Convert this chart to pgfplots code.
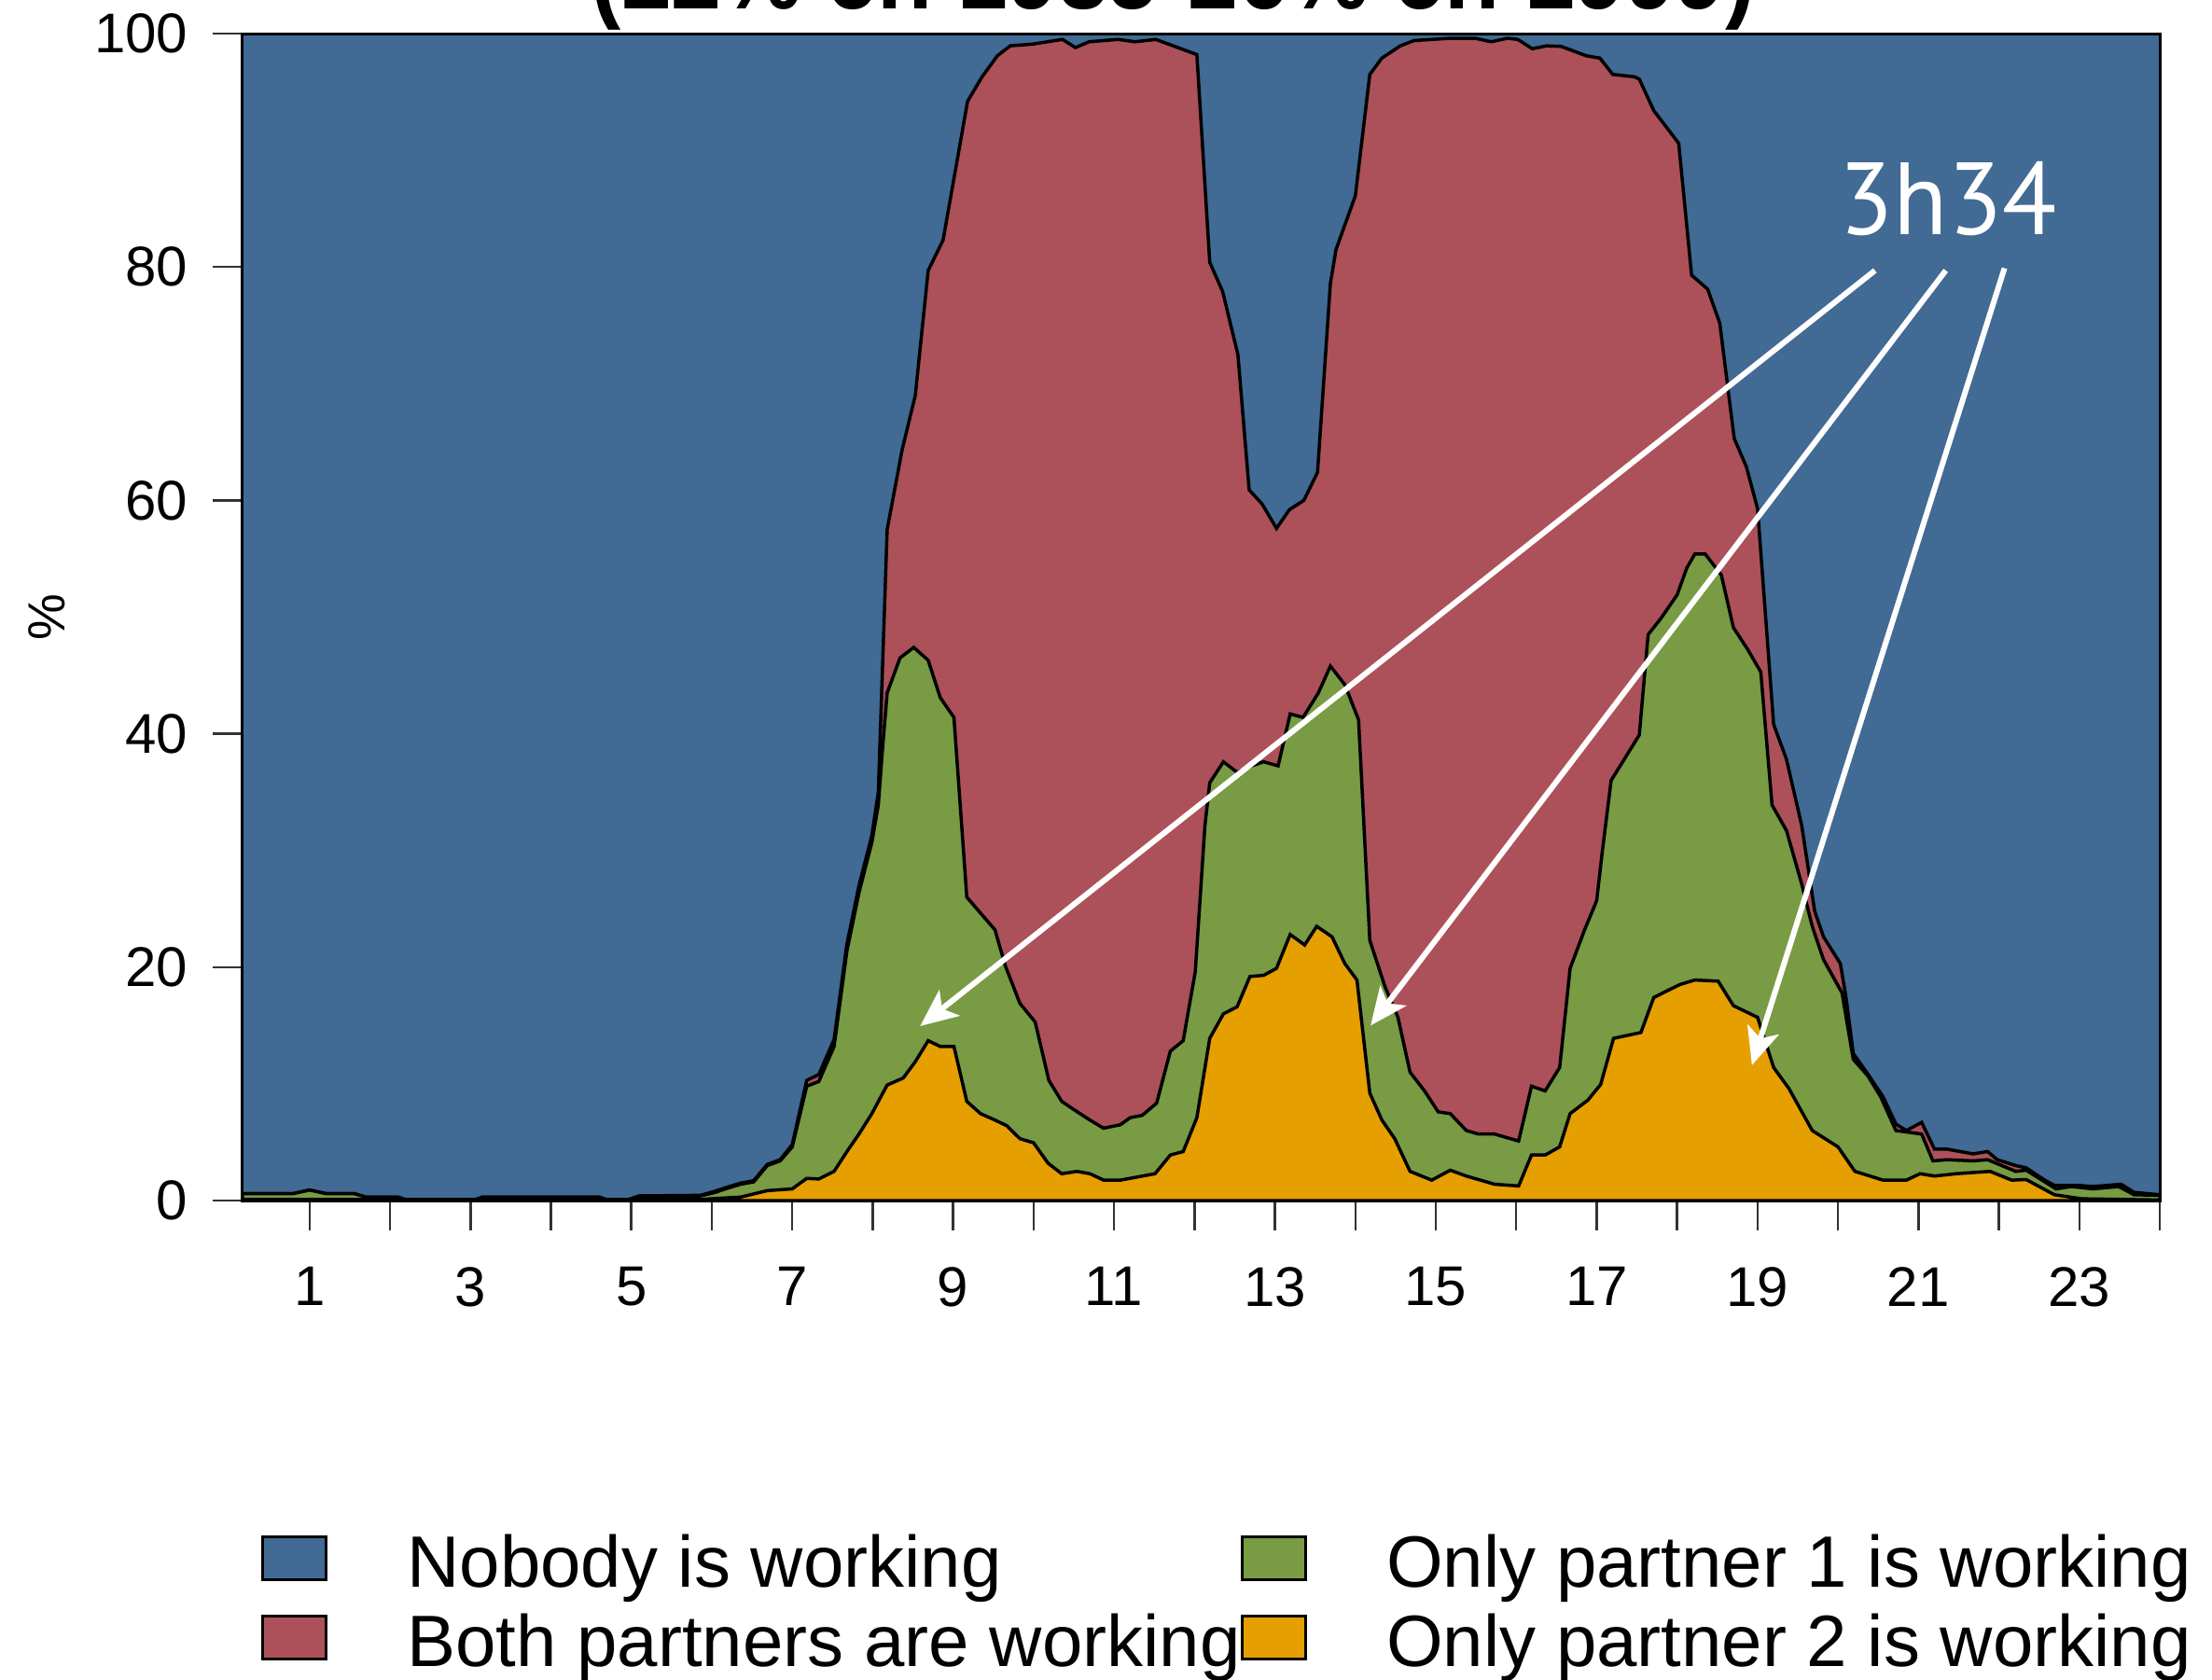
\documentclass[border=0pt]{standalone}
\usepackage{fontspec}
\setmainfont{Liberation Sans}
\newfontfamily\annfont{PT Sans}
\usepackage{pgfplots}
\pgfplotsset{compat=1.18}
\usetikzlibrary{arrows.meta}

\definecolor{nobody}{HTML}{416A94}
\definecolor{both}{HTML}{AC5159}
\definecolor{only1}{HTML}{789B43}
\definecolor{only2}{HTML}{E69F00}

\begin{document}
\begin{tikzpicture}
\path[use as bounding box] (-52pt,-102.6pt) rectangle (422.2pt,257.4pt);
\clip (-52pt,-102.6pt) rectangle (422.2pt,257.4pt);

\begin{axis}[
    at={(0pt,0pt)}, anchor=south west,
    scale only axis, width=411pt, height=250.2pt,
    xmin=0.1667, xmax=24, ymin=0, ymax=100,
    xtick={1,...,24},
    xticklabels={1,,3,,5,,7,,9,,11,,13,,15,,17,,19,,21,,23,},
    ytick={0,20,...,100},
    tick align=outside, tick pos=left,
    major tick length=6.4pt,
    tick style={black!80, line width=0.5pt},
    axis line style={black, line width=0.6pt},
    ticklabel style={font=\fontsize{12}{14}\selectfont},
    xticklabel style={yshift=-4.3pt},
    yticklabel style={xshift=-1.8pt},
    /pgf/number format/assume math mode=true,
    ylabel={\%},
    every axis y label/.style={at={(axis description cs:-0.1022,0.5)}, rotate=90, anchor=center, font=\fontsize{11.2}{13}\selectfont},
    axis on top,
    legend columns=2,
    legend cell align=left,
    legend style={at={(0.00973,-0.287)}, anchor=north west, draw=none, fill=none,
        inner sep=0pt, outer sep=0pt, font=\fontsize{15.6}{18}\selectfont,
        column sep=0pt, row sep=2.4pt,
        nodes={inner sep=0pt, text height=11pt, text depth=3.4pt}},
    legend image code/.code={\draw[#1,draw=black,line width=0.6pt] (0pt,-2.2pt) rectangle (13.6pt,7pt); \path (30.8pt,0pt);},
]

% nobody is working: fills everything up to 100
\addplot[fill=nobody, draw=none, forget plot] coordinates {(0.1667,100) (24,100)} \closedcycle;

% cumulative: both + only 1 + only 2
\addplot[fill=both, draw=black, line width=0.7pt, forget plot] coordinates {
(0.1667,0.6) (0.8,0.6) (1.0,0.9) (1.2,0.6) (1.55,0.6) (1.7,0.3) (2.1,0.3) (2.2,0.05)
(3.05,0.05) (3.15,0.3) (4.6,0.3) (4.7,0.05) (4.95,0.05) (5.1,0.4) (5.86,0.45) (6.04,0.8)
(6.17,1.1) (6.36,1.5) (6.52,1.7) (6.69,3.1) (6.85,3.5) (7.0,4.8) (7.18,10.3) (7.33,10.8)
(7.52,13.8) (7.68,22.0) (7.83,27.0) (7.99,31.3) (8.07,35.0) (8.18,57.5) (8.365,64.3)
(8.53,69.0) (8.69,79.7) (8.875,82.3) (9.18,94.2) (9.36,96.3) (9.55,98.1) (9.71,98.95)
(9.99,99.1) (10.36,99.5) (10.52,98.8) (10.69,99.3) (11.05,99.5) (11.26,99.3) (11.52,99.5)
(12.03,98.2) (12.19,80.4) (12.35,77.9) (12.54,72.5) (12.68,60.9) (12.84,59.7) (13.02,57.6)
(13.18,59.2) (13.36,60.0) (13.53,62.4) (13.69,78.6) (13.76,81.5) (14.0,86.1) (14.18,96.5)
(14.33,97.9) (14.56,98.95) (14.73,99.4) (15.18,99.6) (15.49,99.6) (15.69,99.3) (15.89,99.6)
(16.02,99.5) (16.2,98.7) (16.38,98.95) (16.56,98.9) (16.87,98.1) (17.04,97.9) (17.2,96.5)
(17.47,96.3) (17.53,96.1) (17.71,93.4) (18.02,90.6) (18.18,79.3) (18.38,78.1) (18.53,75.2)
(18.71,65.3) (18.86,62.9) (19.0,59.3) (19.2,40.8) (19.36,37.8) (19.55,32.1) (19.71,24.8)
(19.82,22.6) (20.03,20.3) (20.1,17.4) (20.19,12.6) (20.37,10.85) (20.56,8.9) (20.72,6.55)
(20.85,6.0) (21.04,6.7) (21.2,4.4) (21.36,4.4) (21.68,4.0) (21.86,4.2) (21.98,3.5)
(22.21,3.0) (22.34,2.8) (22.57,1.75) (22.69,1.3) (22.99,1.3) (23.17,1.2) (23.52,1.4)
(23.68,0.7) (24.0,0.5)
} \closedcycle;

% cumulative: only 1 + only 2
\addplot[fill=only1, draw=black, line width=0.7pt, forget plot] coordinates {
(0.1667,0.6) (0.8,0.6) (1.0,0.9) (1.2,0.6) (1.55,0.6) (1.7,0.3) (2.1,0.3) (2.2,0.05)
(3.05,0.05) (3.15,0.3) (4.6,0.3) (4.7,0.05) (4.95,0.05) (5.1,0.4) (5.86,0.4) (6.04,0.7)
(6.17,1.0) (6.36,1.4) (6.52,1.6) (6.69,3.0) (6.85,3.4) (7.0,4.6) (7.18,9.8) (7.33,10.2)
(7.52,13.2) (7.68,21.4) (7.83,26.4) (7.99,30.7) (8.07,33.9) (8.12,38.5) (8.18,43.5)
(8.34,46.5) (8.51,47.4) (8.69,46.3) (8.84,43.1) (9.01,41.4) (9.17,26.0) (9.32,24.8)
(9.52,23.2) (9.65,20.1) (9.83,16.9) (10.02,15.3) (10.19,10.3) (10.35,8.5) (10.5,7.8)
(10.7,6.9) (10.87,6.2) (11.08,6.5) (11.2,7.1) (11.35,7.3) (11.53,8.35) (11.7,12.8)
(11.86,13.7) (12.01,19.6) (12.13,32.1) (12.19,35.8) (12.36,37.6) (12.53,36.7) (12.71,37.25)
(12.86,37.6) (13.04,37.25) (13.19,41.7) (13.35,41.4) (13.54,43.5) (13.69,45.8) (13.87,44.2)
(14.04,41.2) (14.18,22.3) (14.37,18.3) (14.53,15.7) (14.68,11.0) (14.86,9.4) (15.03,7.6)
(15.18,7.45) (15.38,6.0) (15.53,5.7) (15.73,5.7) (16.03,5.1) (16.19,9.8) (16.36,9.4)
(16.54,11.4) (16.67,19.9) (16.85,23.2) (17.0,25.7) (17.07,29.9) (17.18,36.0) (17.53,39.9)
(17.64,48.5) (17.8,49.9) (18.0,51.9) (18.12,54.2) (18.22,55.4) (18.35,55.4) (18.55,53.6)
(18.7,49.1) (18.88,47.2) (19.04,45.3) (19.18,33.9) (19.36,31.7) (19.55,27.1) (19.68,23.5)
(19.82,20.65) (20.05,17.8) (20.19,12.1) (20.37,10.7) (20.53,8.9) (20.72,6.0) (21.04,5.7)
(21.18,3.4) (21.36,3.5) (21.68,3.4) (21.86,3.5) (22.21,2.5) (22.34,2.6) (22.71,1.0)
(22.9,1.2) (23.17,1.0) (23.49,1.2) (23.68,0.5) (24.0,0.45)
} \closedcycle;

% only partner 2
\addplot[fill=only2, draw=black, line width=0.7pt, forget plot] coordinates {
(0.1667,0.1) (5.86,0.1) (6.36,0.3) (6.69,0.85) (7.0,1.0) (7.18,1.9) (7.33,1.85) (7.52,2.5)
(7.68,4.2) (7.83,5.7) (7.99,7.45) (8.18,9.9) (8.38,10.5) (8.53,11.9) (8.69,13.7) (8.84,13.2)
(9.01,13.2) (9.17,8.5) (9.34,7.45) (9.52,6.9) (9.67,6.4) (9.83,5.3) (10.0,4.95) (10.18,3.2)
(10.35,2.3) (10.54,2.5) (10.7,2.3) (10.87,1.75) (11.08,1.75) (11.51,2.3) (11.7,3.9)
(11.86,4.2) (12.03,7.1) (12.19,13.9) (12.36,16.0) (12.53,16.6) (12.69,19.2) (12.86,19.3)
(13.02,19.9) (13.19,22.8) (13.37,21.9) (13.52,23.5) (13.71,22.6) (13.87,20.3) (14.02,18.9)
(14.18,9.2) (14.33,6.9) (14.49,5.3) (14.68,2.5) (14.95,1.75) (15.18,2.6) (15.38,2.1)
(15.73,1.4) (16.03,1.25) (16.19,3.9) (16.36,3.9) (16.54,4.6) (16.67,7.45) (16.89,8.6)
(17.05,9.95) (17.21,13.9) (17.55,14.4) (17.71,17.4) (18.03,18.5) (18.22,18.9) (18.51,18.8)
(18.7,16.7) (19.0,15.7) (19.2,11.4) (19.39,9.6) (19.68,6.0) (20.0,4.6) (20.21,2.5)
(20.56,1.75) (20.85,1.75) (21.02,2.3) (21.2,2.1) (21.47,2.3) (21.89,2.5) (22.16,1.75)
(22.34,1.8) (22.69,0.5) (23.03,0.15) (24.0,0.05)
} \closedcycle;

\addlegendimage{fill=nobody}\addlegendentry{Nobody is working}
\addlegendimage{fill=only1}\addlegendentry{Only partner 1 is working}
\addlegendimage{fill=both}\addlegendentry{Both partners are working}
\addlegendimage{fill=only2}\addlegendentry{Only partner 2 is working}

% annotation
\node[white, font=\annfont\fontsize{22}{24}\selectfont, xscale=0.97] at (axis cs:21.37,85.85) {3h34};
\draw[white, line width=1.2pt, -{Stealth[length=8pt,width=7pt,inset=2pt]}] (axis cs:20.46,79.7) -- (axis cs:8.59,14.95);
\draw[white, line width=1.2pt, -{Stealth[length=8pt,width=7pt,inset=2pt]}] (axis cs:21.34,79.7) -- (axis cs:14.19,15.0);
\draw[white, line width=1.2pt, -{Stealth[length=8pt,width=7pt,inset=2pt]}] (axis cs:22.07,79.9) -- (axis cs:18.93,11.6);
\end{axis}

% title, cut at the top as in the reference
\node[font=\bfseries\fontsize{22}{24}\selectfont, anchor=base, xscale=0.88] at (199.6pt,255.6pt) {(22\% en 1985-26\% en 1999)};
\end{tikzpicture}
\end{document}
